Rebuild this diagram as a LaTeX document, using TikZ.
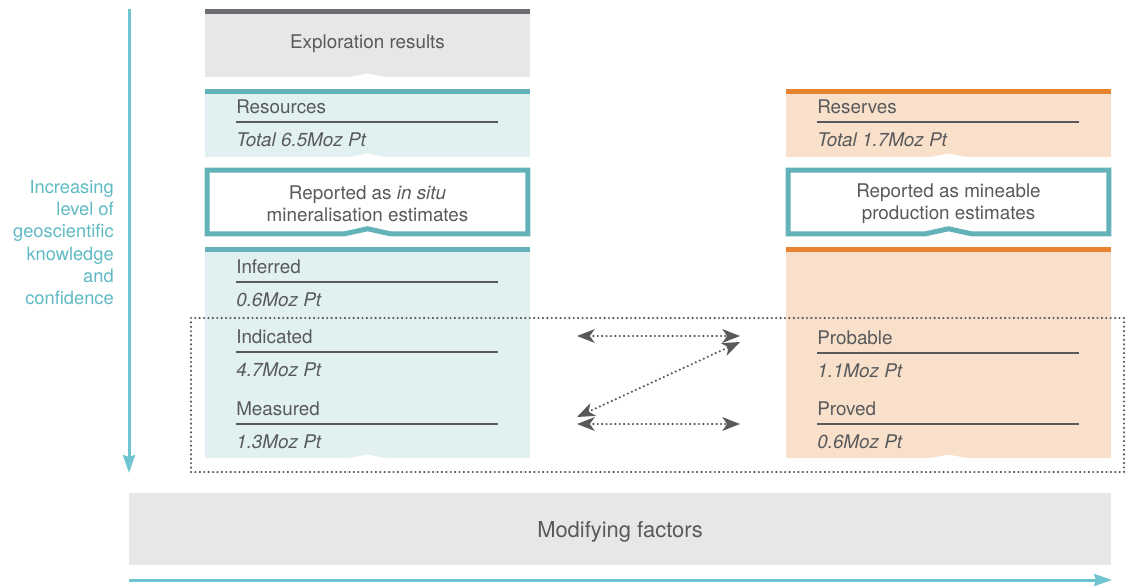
\documentclass[tikz,border=0pt]{standalone}
\usepackage{fontspec}
\setmainfont{TeX Gyre Heros}
\usetikzlibrary{arrows.meta,positioning,calc}
\definecolor{TxtGray}{RGB}{88,89,91}
\definecolor{BarGray}{RGB}{109,110,113}
\definecolor{FillGray}{RGB}{230,231,232}
\definecolor{BarTeal}{RGB}{99,178,186}
\definecolor{FillTeal}{RGB}{225,240,240}
\definecolor{BarOrange}{RGB}{232,131,47}
\definecolor{FillPeach}{RGB}{249,224,203}
\definecolor{AxisTeal}{RGB}{110,197,207}
\definecolor{LabelTeal}{RGB}{95,186,196}

\begin{document}
\begin{tikzpicture}[x=0.025cm,y=-0.025cm,
   font=\fontsize{13.4}{15.8}\selectfont,text=TxtGray,
   panel/.style={rectangle,inner sep=0pt,minimum width=8.125cm,anchor=north},
   frame/.style={rectangle,inner sep=0pt,minimum width=8cm,minimum height=1.575cm,align=center},
   head/.style={anchor=base west,inner sep=0pt},
   rule/.style={TxtGray,line width=0.033cm},
   dotarrow/.style={TxtGray,line width=0.06cm,line cap=round,dash pattern=on 0pt off 0.11cm,
      {Stealth[length=0.44cm,width=0.34cm,inset=0.12cm]}-{Stealth[length=0.44cm,width=0.34cm,inset=0.12cm]}},
   axis/.style={AxisTeal,line width=0.075cm,-{Stealth[length=0.45cm,width=0.3cm,inset=0.05cm]}}]
  \useasboundingbox (0,0) rectangle (1129,585);
  % panels
  \node[panel,fill=FillGray,minimum height=1.7cm] (expl) at (367.5,9) {};
  \node[panel,fill=FillTeal,minimum height=1.7cm] (res) at (367.5,89) {};
  \node[panel,fill=FillTeal,minimum height=5.275cm] (lowL) at (367.5,247) {};
  \node[panel,fill=FillPeach,minimum height=1.7cm] (resv) at (948.5,89) {};
  \node[panel,fill=FillPeach,minimum height=5.275cm] (lowR) at (948.5,247) {};
  \foreach \b/\c in {expl/BarGray,res/BarTeal,lowL/BarTeal,resv/BarOrange,lowR/BarOrange}{
    \fill[\c] (\b.north west) rectangle ($(\b.north east)+(0,5)$);
    \fill[white] ($(\b.south)+(-24,0.5)$) -- ($(\b.south)+(0,-4)$) -- ($(\b.south)+(24,0.5)$) -- cycle;
  }
  \node[inner sep=0pt] (explT) at (367.5,44) {Exploration results};
  % reported boxes
  \node[frame] (repL) at (367.5,202) {};
  \node[frame] (repR) at (948.5,202) {};
  \node[align=center,inner sep=0pt] (repLT) at (367.5,204) {Reported as \textit{in situ}\\mineralisation estimates};
  \node[align=center,inner sep=0pt] (repRT) at (948.5,204) {Reported as mineable\\production estimates};
  \foreach \r in {repL,repR}{
    \draw[BarTeal,line width=0.125cm,miter limit=10]
      ($(\r.south)+(-23,0)$) -- (\r.south west) -- (\r.north west) -- (\r.north east)
      -- (\r.south east) -- ($(\r.south)+(23,0)$) -- ($(\r.south)+(0,-5)$) -- cycle;
  }
  % headings with values
  \foreach \i/\h/\v/\x/\y in {1/Resources/Total 6.5Moz Pt/236/113,
      2/Inferred/0.6Moz Pt/236/273, 3/Indicated/4.7Moz Pt/236/343,
      4/Measured/1.3Moz Pt/236/415, 5/Reserves/Total 1.7Moz Pt/817/113,
      6/Probable/1.1Moz Pt/817/344, 7/Proved/0.6Moz Pt/817/415}{
    \node[head] (hd\i) at (\x,\y) {\h};
    \draw[rule] (\x,\y+9) -- (\x+262,\y+9);
    \node[head] (val\i) at (\x,\y+33) {\textit{\v}};
  }
  % selection frame and links
  \draw[TxtGray,line width=0.06cm,line cap=round,dash pattern=on 0pt off 0.11cm]
    (191,318) rectangle (1124,472);
  \coordinate (indA) at (577,336);
  \coordinate (prbA) at (740,336);
  \coordinate (prbB) at (740,342);
  \coordinate (meaB) at (577,417);
  \coordinate (meaA) at (577,424);
  \coordinate (prvA) at (740,424);
  \draw[dotarrow] (indA) -- (prbA);
  \draw[dotarrow] (meaB) -- (prbB);
  \draw[dotarrow] (meaA) -- (prvA);
  % modifying factors and axes
  \node[rectangle,fill=FillGray,minimum width=24.55cm,minimum height=1.8cm,inner sep=0pt]
    (mod) at (620,529) {};
  \node[inner sep=0pt,font=\fontsize{15.6}{18}\selectfont] (modT) at (620,532) {Modifying factors};
  \node[align=right,anchor=east,inner sep=0pt,text=LabelTeal,font=\fontsize{13}{15.8}\selectfont]
    (conf) at (114,242.5)
    {Increasing\\level of\\geoscientific\\knowledge\\and\\confidence};
  \coordinate (vtop) at (129,9);
  \coordinate (vbot) at (129,473);
  \coordinate (hlft) at (129,580);
  \coordinate (hrgt) at (1112,580);
  \draw[axis] (vtop) -- (vbot);
  \draw[axis] (hlft) -- (hrgt);
\end{tikzpicture}
\end{document}
